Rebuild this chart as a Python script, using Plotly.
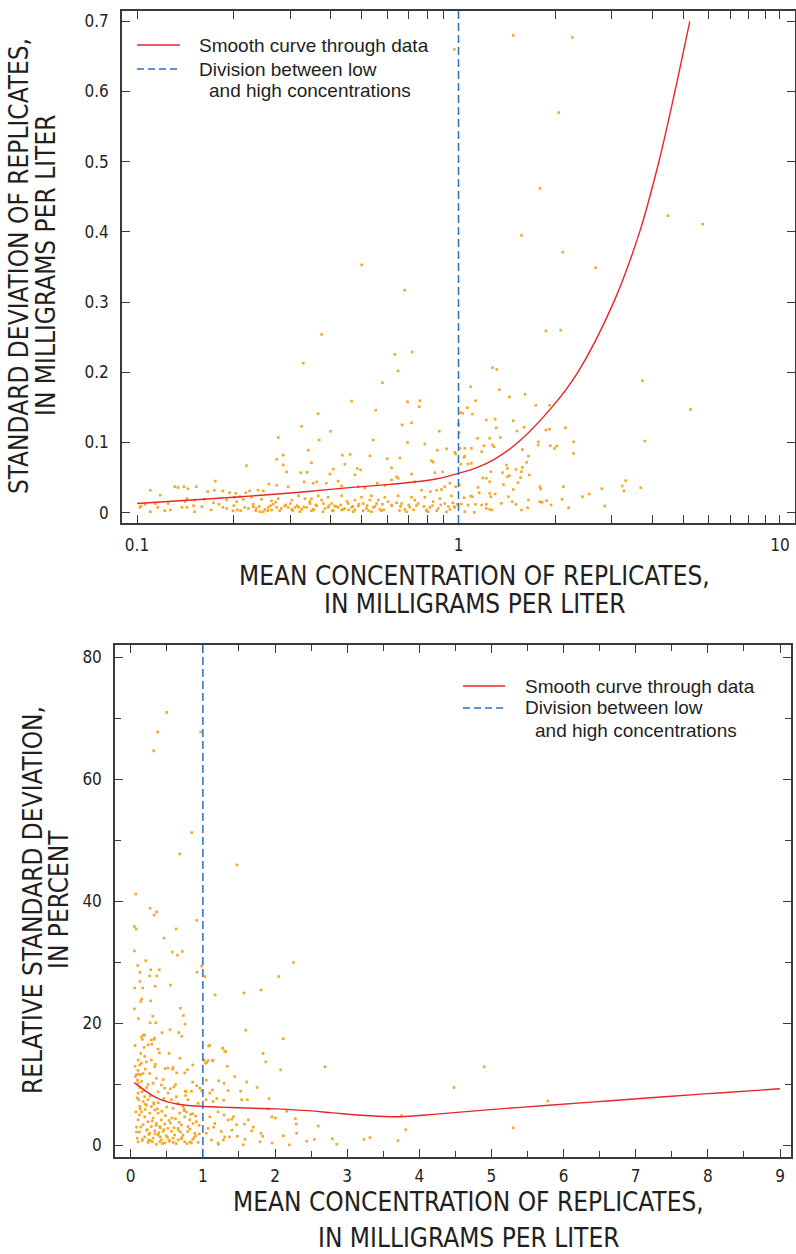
import plotly.graph_objects as go

# ---------------- data: top panel (standard deviation vs mean, log x) ----------------
TOP_X = [
    0.325, 0.714, 0.668, 0.275, 0.400, 0.871, 0.369, 0.543, 0.694, 0.786, 0.341, 0.285, 0.272, 0.435, 0.460,
    0.530, 0.600, 0.657, 0.859, 0.918, 0.974, 0.219, 0.285, 0.349, 0.443, 0.408, 0.484, 0.496, 0.619, 0.824,
    0.834, 0.892, 0.292, 0.323, 0.338, 0.398, 0.476, 0.642, 0.714, 0.844, 0.175, 0.131, 0.134, 0.140, 0.144,
    0.153, 0.110, 0.166, 0.174, 0.185, 0.194, 0.203, 0.218, 0.224, 0.238, 0.247, 0.257, 0.272, 0.295, 0.331,
    0.353, 0.362, 0.388, 0.422, 0.433, 0.488, 0.511, 0.559, 0.590, 0.619, 0.649, 0.731, 0.767, 0.818, 0.855,
    0.885, 0.906, 0.940, 0.118, 0.143, 0.151, 0.162, 0.141, 0.125, 0.114, 0.106, 0.102, 0.103,
    0.110, 0.116, 0.122, 0.127, 0.138, 0.143, 0.151, 0.159, 0.173, 0.185, 0.190, 0.199, 0.204, 0.214, 0.216,
    0.222, 0.230, 0.234, 0.241, 0.250, 0.256, 0.265, 0.272, 0.281, 0.288, 0.295, 0.303, 0.310, 0.318, 0.325,
    0.337, 0.345, 0.353, 0.362, 0.375, 0.384, 0.393, 0.403, 0.412, 0.422, 0.433, 0.443, 0.454, 0.465, 0.476,
    0.488, 0.505, 0.517, 0.530, 0.543, 0.556, 0.569, 0.604, 0.619, 0.642, 0.665, 0.681, 0.706, 0.731, 0.749,
    0.795, 0.815, 0.834, 0.865, 0.906, 0.940, 0.974, 0.190, 0.201, 0.209, 0.227, 0.244, 0.262, 0.275, 0.303,
    0.318, 0.333, 0.349, 0.366, 0.393, 0.433, 0.476, 0.499, 0.536, 0.563, 0.590, 0.649, 0.714, 0.786, 0.875,
    0.951, 0.235, 0.247, 0.262, 0.278, 0.321, 0.349, 0.379, 0.408, 0.438, 0.470, 0.505, 0.536, 0.576, 0.689,
    0.805, 0.855, 0.918,
    0.375, 0.329, 0.634, 0.718, 0.649, 0.580, 0.465, 0.694, 0.758, 0.755, 0.553, 0.366, 0.500, 0.680,
    0.970, 1.480, 2.260, 2.050, 1.790, 1.570, 2.110, 2.670, 4.480, 5.750,
    1.870, 2.080, 1.276, 1.316, 3.730, 1.090, 1.340, 1.610, 1.440, 1.130, 1.740, 1.920, 5.270, 1.066, 1.017,
    1.030, 1.105, 1.220, 1.300, 1.480, 1.000, 1.310, 1.600, 1.520, 1.870, 1.920, 2.150, 1.350, 1.146, 1.250,
    1.005, 2.280, 3.800, 1.770, 1.770, 1.930, 2.020, 1.990, 1.200, 1.276, 1.290, 1.010, 1.046, 1.097, 1.180,
    0.980, 1.580, 2.280, 1.650, 1.040, 1.046, 1.070, 1.097, 1.015, 1.410, 1.420, 1.630, 1.260, 1.370, 1.420,
    1.440, 1.510, 1.580, 1.570, 1.560, 1.660, 1.190, 1.220, 1.250, 0.980, 1.005, 1.150, 1.380, 1.480, 1.530,
    1.790, 1.800, 2.120, 2.790, 3.230, 3.310, 3.270, 3.690, 2.430, 2.550, 2.850, 1.160, 1.090, 1.040, 1.105,
    1.250, 1.260, 1.300, 1.430, 1.470, 1.510, 1.650, 1.570, 1.640, 1.790, 1.820, 1.880, 1.940, 2.100, 2.200,
    1.360, 1.220, 1.180, 1.130, 1.070, 1.020, 1.046, 1.120, 1.220, 1.250, 1.270, 0.970, 0.960,
    0.150, 0.170, 0.180, 0.200, 0.210, 0.230, 0.240, 0.260, 0.270, 0.290, 0.300, 0.315, 0.330, 0.345, 0.360,
    0.380, 0.395, 0.415, 0.430, 0.450, 0.470, 0.490, 0.520, 0.550, 0.580, 0.620, 0.660, 0.700, 0.740, 0.780,
    0.830, 0.880, 0.930, 0.990, 0.205, 0.255, 0.305, 0.355, 0.405, 0.455, 0.525, 0.585, 0.655, 0.725, 0.795,
]
TOP_Y = [
    0.123, 0.128, 0.125, 0.107, 0.116, 0.116, 0.1035, 0.1035, 0.100, 0.098, 0.089, 0.082, 0.076, 0.082, 0.083,
    0.081, 0.077, 0.078, 0.089, 0.091, 0.086, 0.067, 0.068, 0.071, 0.069, 0.062, 0.063, 0.061, 0.064, 0.074,
    0.072, 0.058, 0.058, 0.057, 0.0575, 0.055, 0.054, 0.051, 0.055, 0.057, 0.045, 0.037, 0.036, 0.037, 0.034,
    0.037, 0.032, 0.030, 0.032, 0.031, 0.0285, 0.0275, 0.0285, 0.031, 0.032, 0.031, 0.041, 0.039, 0.037, 0.044,
    0.042, 0.044, 0.042, 0.045, 0.038, 0.037, 0.035, 0.042, 0.039, 0.0465, 0.049, 0.044, 0.032, 0.030, 0.032,
    0.033, 0.037, 0.042, 0.025, 0.020, 0.018, 0.019, 0.0157, 0.013, 0.013, 0.012, 0.0076, 0.0095,
    0.0014, 0.0076, 0.0028, 0.0038, 0.0076, 0.0076, 0.0014, 0.0085, 0.014, 0.0076, 0.006, 0.0028, 0.0157, 0.019, 0.0076,
    0.006, 0.0085, 0.0028, 0.0014, 0.0047, 0.0076, 0.012, 0.0076, 0.006, 0.0095, 0.0076, 0.0047, 0.0076, 0.0076, 0.0047,
    0.0076, 0.013, 0.0047, 0.0095, 0.018, 0.006, 0.0076, 0.013, 0.0095, 0.0076, 0.0038, 0.006, 0.013, 0.0076, 0.0038,
    0.0095, 0.013, 0.006, 0.018, 0.0076, 0.013, 0.0047, 0.0157, 0.011, 0.014, 0.013, 0.0047, 0.0076, 0.018, 0.013,
    0.0028, 0.0076, 0.0157, 0.006, 0.013, 0.0047, 0.0076, 0.018, 0.022, 0.023, 0.022, 0.019, 0.017, 0.020, 0.018,
    0.024, 0.020, 0.020, 0.024, 0.022, 0.024, 0.018, 0.022, 0.024, 0.018, 0.022, 0.024, 0.022, 0.022, 0.020,
    0.024, 0.006, 0.0014, 0.0038, 0.0028, 0.0014, 0.0028, 0.0014, 0.0028, 0.0047, 0.0014, 0.0028, 0.0014, 0.0028, 0.0014,
    0.0014, 0.0028, 0.0014,
    0.254, 0.213, 0.2255, 0.229, 0.202, 0.185, 0.159, 0.158, 0.1595, 0.151, 0.146, 0.141, 0.353, 0.317,
    0.660, 0.680, 0.677, 0.570, 0.462, 0.395, 0.371, 0.349, 0.423, 0.411,
    0.259, 0.260, 0.2066, 0.204, 0.188, 0.1795, 0.175, 0.1686, 0.165, 0.1595, 0.153, 0.153, 0.147, 0.1496, 0.1425,
    0.1415, 0.1405, 0.132, 0.1334, 0.131, 0.126, 0.121, 0.1216, 0.1163, 0.1178, 0.119, 0.121, 0.107, 0.106, 0.106,
    0.114, 0.101, 0.102, 0.101, 0.0964, 0.0954, 0.095, 0.0916, 0.0954, 0.0964, 0.094, 0.0916, 0.0916, 0.0916, 0.0869,
    0.0836, 0.090, 0.0845, 0.0807, 0.0788, 0.0807, 0.0693, 0.0703, 0.069, 0.0679, 0.063, 0.0717, 0.0584, 0.057, 0.0513,
    0.0527, 0.0617, 0.0646, 0.0584, 0.0499, 0.0537, 0.0494, 0.049, 0.0442, 0.037, 0.0394, 0.036, 0.040, 0.033, 0.0427,
    0.037, 0.0337, 0.037, 0.0342, 0.038, 0.0456, 0.031, 0.0356, 0.0228, 0.0266, 0.0095, 0.0285, 0.0237, 0.0214, 0.0228,
    0.0275, 0.0228, 0.0266, 0.0228, 0.0157, 0.0119, 0.018, 0.0038, 0.0071, 0.0157, 0.0147, 0.0171, 0.0109, 0.019, 0.0071,
    0.0133, 0.0119, 0.0109, 0.0119, 0.0109, 0.0123, 0.0014, 0.0005, 0.0062, 0.0047, 0.0038, 0.0085, 0.014,
    0.010, 0.004, 0.012, 0.010, 0.003, 0.012, 0.009, 0.010, 0.015, 0.011, 0.013, 0.010, 0.008, 0.016, 0.011,
    0.013, 0.010, 0.009, 0.011, 0.016, 0.009, 0.012, 0.010, 0.009, 0.012, 0.010, 0.009, 0.011, 0.010, 0.009,
    0.010, 0.011, 0.009, 0.012, 0.004, 0.003, 0.003, 0.004, 0.003, 0.004, 0.003, 0.004, 0.003, 0.004, 0.004,
]

TOP_CURVE_X = [0.1, 0.2, 0.3, 0.44, 0.6, 0.7, 0.85, 1.0, 1.15, 1.28, 1.53, 1.95, 2.35, 3.04, 3.66, 4.20, 4.71, 5.24]
TOP_CURVE_Y = [0.013, 0.022, 0.028, 0.035, 0.040, 0.043, 0.048, 0.056, 0.065, 0.075, 0.100, 0.150, 0.200, 0.300,
               0.400, 0.500, 0.600, 0.700]

# ---------------- data: bottom panel (relative standard deviation vs mean) ----------------
BOT_X = [
    0.499, 0.374, 0.970, 0.319, 0.845, 0.679, 1.473,
    0.069, 0.268, 0.360, 0.323, 0.915, 0.051, 0.074, 0.628, 0.462, 0.051, 0.577, 0.647, 0.716, 0.208, 2.254,
    0.097, 0.277, 0.397, 0.129, 0.919, 0.984, 0.263, 0.360, 1.030, 2.050, 0.129, 0.055, 0.166, 0.337, 0.550,
    1.806, 1.169, 1.570, 0.152, 0.139, 0.051, 0.277, 0.688, 0.730, 0.753, 0.106, 0.305, 0.268, 0.346, 0.545,
    0.434, 0.665, 0.707, 1.594, 2.115, 0.176, 0.162, 0.323, 0.291, 0.060, 1.095, 1.275, 1.316, 1.834, 1.871,
    0.684, 0.531, 0.397, 0.139, 1.053, 1.132, 1.035, 0.859, 1.339, 2.693, 2.079, 1.441, 1.607, 0.785, 0.476,
    0.582, 0.637, 0.342, 1.219, 1.293, 1.132, 1.917, 1.524, 1.617, 1.538, 1.044, 1.192, 1.289, 0.753, 0.859,
    0.984, 0.915, 1.954, 2.005, 2.282, 2.296, 2.162, 1.806, 1.829, 1.958, 2.115, 2.199, 2.439, 2.545, 2.794,
    2.855, 3.233, 3.316, 3.704, 3.811, 3.755, 1.423, 1.400, 1.469, 1.575, 1.630, 1.584, 1.478, 1.561, 1.677,
    1.792, 1.284, 1.367, 1.215,
    0.065, 0.079, 0.111, 0.139, 0.171, 0.092, 0.102, 0.125, 0.157, 0.102, 0.194, 0.111, 0.171, 0.240, 0.217,
    0.125, 0.286, 0.333, 0.148, 0.263, 0.379, 0.194, 0.309, 0.102, 0.425, 0.240, 0.356, 0.471, 0.171, 0.286,
    0.402, 0.517, 0.217, 0.333, 0.448, 0.564, 0.263, 0.379, 0.494, 0.610, 0.194, 0.309, 0.425, 0.540, 0.656,
    0.102, 0.240, 0.356, 0.471, 0.748, 0.841, 0.933,
    0.702, 0.794, 0.864, 0.748, 0.818, 0.910, 0.679, 0.771, 0.587, 0.656, 0.725, 0.564, 0.633, 0.517, 0.471,
    0.379, 0.425, 0.309, 0.356, 0.263, 0.517, 0.587, 0.748, 0.771, 0.841, 0.956, 0.794, 0.933, 0.656, 0.887,
    0.725, 0.587, 0.402, 0.286, 0.194, 0.125, 0.333,
    1.048, 1.095, 1.141, 1.210, 1.164, 1.072, 1.256, 1.118, 1.303, 1.210, 1.048, 1.349, 1.095, 1.293,
    1.016, 1.072, 1.141, 1.081, 1.279, 1.303,
    0.148, 0.194, 0.286, 0.333, 0.240, 0.185, 0.379, 0.102, 0.148, 0.217,
    4.480, 4.900, 5.300, 5.780,
    0.080, 0.120, 0.160, 0.200, 0.230, 0.270, 0.300, 0.340, 0.370, 0.410, 0.440, 0.480, 0.510, 0.550, 0.590,
    0.620, 0.660, 0.700, 0.740, 0.780, 0.820, 0.860, 0.900, 0.950, 0.090, 0.140, 0.180, 0.250, 0.320, 0.390,
    0.460, 0.530, 0.600, 0.690, 0.760, 0.830, 0.880,
    0.07, 0.08, 0.09, 0.12, 0.13, 0.16, 0.20, 0.22, 0.25, 0.27, 0.30, 0.32, 0.35, 0.38, 0.41,
    0.43, 0.46, 0.50, 0.53, 0.57, 0.60, 0.63, 0.67, 0.71, 0.74, 0.79, 0.82, 0.86, 0.90, 0.95,
    0.06, 0.10, 0.15, 0.20, 0.24, 0.45, 0.55, 0.62, 1.15, 1.40, 1.70, 1.90, 2.30, 2.60, 1.35, 1.75,
]
BOT_Y = [
    71.0, 67.8, 67.8, 64.7, 51.3, 47.8, 46.0,
    41.2, 38.9, 38.3, 37.8, 36.9, 35.9, 35.5, 35.5, 34.0, 31.9, 31.7, 31.2, 31.8, 30.3, 30.0,
    29.5, 28.8, 28.8, 28.4, 28.4, 29.4, 27.8, 27.8, 27.7, 27.7, 26.9, 25.8, 25.8, 26.1, 26.3,
    25.5, 24.7, 25.0, 24.0, 23.6, 22.4, 23.7, 22.5, 21.3, 19.9, 20.8, 21.2, 20.1, 20.1, 19.0,
    18.5, 18.5, 17.9, 18.9, 17.5, 18.1, 17.4, 17.4, 16.6, 16.4, 16.4, 16.0, 15.4, 15.1, 13.7,
    14.3, 15.1, 15.2, 15.1, 13.6, 13.9, 13.5, 13.2, 13.0, 12.9, 12.4, 11.3, 10.4, 12.4, 12.6,
    12.5, 11.9, 13.3, 10.6, 10.2, 9.1, 7.7, 8.9, 7.5, 7.5, 7.5, 7.7, 7.4, 8.9, 10.4,
    9.0, 9.8, 4.7, 4.5, 4.4, 3.5, 5.6, 2.0, 1.5, 0.4, 1.6, 0.1, 0.7, 1.0, 1.1,
    0.2, 1.0, 1.3, 0.8, 2.6, 4.9, 4.7, 4.3, 3.4, 3.5, 4.2, 1.0, 1.5, 0.1, 2.4,
    0.6, 0.9, 1.4, 0.2,
    11.3, 11.6, 11.7, 11.6, 11.8, 10.7, 10.2, 9.5, 8.8, 8.6, 8.0, 7.5, 7.2, 7.5, 6.6,
    6.4, 6.4, 5.8, 5.5, 5.3, 5.3, 4.7, 4.5, 4.2, 4.2, 3.9, 3.6, 3.5, 3.4, 3.1,
    3.1, 2.8, 2.5, 2.4, 2.3, 2.3, 2.0, 1.7, 1.6, 1.7, 1.4, 1.2, 0.9, 0.8, 0.9,
    0.6, 0.5, 0.2, 0.4, 0.6, 0.4, 0.5,
    3.4, 3.1, 3.6, 4.7, 4.2, 3.9, 5.3, 5.5, 6.1, 6.9, 6.4, 7.5, 8.0, 8.6, 9.4,
    8.8, 9.9, 10.2, 11.0, 11.8, 12.7, 12.8, 11.9, 8.8, 8.9, 9.4, 7.5, 6.9, 2.8, 2.0,
    1.7, 1.2, 0.6, 14.0, 14.6, 13.2, 12.9,
    10.7, 8.6, 7.2, 5.5, 3.6, 2.8, 2.3, 0.9, 1.4, 0.4, 2.0, 4.2, 4.7, 5.0,
    14.0, 13.9, 14.0, 16.3, 15.9, 15.4,
    17.8, 18.1, 17.3, 17.6, 16.5, 16.1, 15.8, 14.0, 13.5, 13.7,
    9.5, 12.9, 2.9, 7.3,
    2.2, 5.0, 1.0, 6.8, 2.6, 0.8, 4.0, 1.9, 6.0, 2.9, 0.3, 4.9, 1.3, 3.7, 0.5,
    4.4, 2.5, 1.1, 5.7, 0.3, 2.7, 1.0, 4.8, 1.9, 7.8, 3.0, 9.0, 0.9, 7.0, 2.1,
    7.7, 4.1, 9.6, 2.2, 8.2, 5.1, 1.3,
    5.5, 3.0, 1.2, 2.2, 6.0, 0.8, 5.9, 9.5, 1.8, 8.1, 0.6, 6.8, 3.3, 7.0, 1.4,
    5.6, 2.6, 6.3, 0.7, 4.5, 2.9, 0.3, 3.8, 1.3, 6.0, 2.3, 0.6, 5.2, 1.6, 3.3,
    13.0, 12.3, 10.5, 12.5, 10.0, 10.8, 9.3, 10.0, 3.0, 2.5, 3.0, 6.0, 2.0, 3.2, 9.0, 9.5,
]

BOT_CURVE_X = [0.05, 0.2, 0.36, 0.5, 0.64, 0.8, 1.0, 1.3, 1.6, 2.0, 2.4, 2.8, 3.2, 3.6, 3.8, 4.2, 4.9,
               5.8, 6.6, 7.4, 8.2, 9.0]
BOT_CURVE_Y = [10.3, 9.0, 7.8, 7.2, 6.8, 6.55, 6.4, 6.25, 6.15, 6.0, 5.75, 5.35, 4.95, 4.72, 4.75, 5.1, 5.8,
               6.6, 7.3, 8.0, 8.65, 9.3]

DIVISION = 1.0
TOP_Y_TICKS = [0, 0.1, 0.2, 0.3, 0.4, 0.5, 0.6, 0.7]
TOP_X_TICKS = [0.1, 1, 10]
BOT_X_TICKS = [0, 1, 2, 3, 4, 5, 6, 7, 8, 9]
BOT_Y_TICKS = [0, 20, 40, 60, 80]
LEGEND_CURVE = "Smooth curve through data"
LEGEND_DIV_1 = "Division between low"
LEGEND_DIV_2 = "and high concentrations"

# ---------------- styles ----------------
DOT = "#F6A623"
RED = "#E8262A"
BLUE = "#2B70C0"
AXC = "#3a3a3a"
TXT = "#231f20"
COND = "Liberation Sans Narrow, DejaVu Sans Condensed, Arial Narrow, sans-serif"
REG = "Liberation Sans, Arial, sans-serif"
W, H = 796, 1254

fig = go.Figure()

# top panel
fig.add_trace(go.Scatter(x=TOP_X, y=TOP_Y, mode="markers", xaxis="x", yaxis="y",
                         marker=dict(symbol="square", size=2.6, color=DOT, line=dict(width=0)),
                         showlegend=False, hoverinfo="skip"))
fig.add_trace(go.Scatter(x=TOP_CURVE_X, y=TOP_CURVE_Y, mode="lines", xaxis="x", yaxis="y",
                         line=dict(color=RED, width=1.4, shape="spline", smoothing=1.0),
                         showlegend=False))
# bottom panel
fig.add_trace(go.Scatter(x=BOT_X, y=BOT_Y, mode="markers", xaxis="x2", yaxis="y2",
                         marker=dict(symbol="square", size=2.6, color=DOT, line=dict(width=0)),
                         showlegend=False, hoverinfo="skip"))
fig.add_trace(go.Scatter(x=BOT_CURVE_X, y=BOT_CURVE_Y, mode="lines", xaxis="x2", yaxis="y2",
                         line=dict(color=RED, width=1.4, shape="spline", smoothing=1.0),
                         showlegend=False))

# division lines (full height of each plot)
for xr, yr in (("x", "y domain"), ("x2", "y2 domain")):
    fig.add_shape(type="line", xref=xr, yref=yr, x0=DIVISION, x1=DIVISION, y0=0, y1=1,
                  line=dict(color=BLUE, width=1.5, dash="8px,4px"))

axis_common = dict(showgrid=False, zeroline=False, showline=True, linecolor=AXC, linewidth=1.5,
                   mirror="ticks", ticks="inside", ticklen=8, tickwidth=1.3, tickcolor=AXC,
                   tickfont=dict(family=COND, size=17, color=TXT))

fig.update_layout(
    width=W, height=H, margin=dict(l=0, r=0, t=0, b=0),
    paper_bgcolor="white", plot_bgcolor="white", showlegend=False,
    xaxis=dict(axis_common, type="log", domain=[122 / W, 795 / W], anchor="y",
               range=[-1.0467, 1.0467], tickvals=TOP_X_TICKS, ticktext=["0.1", "1", "10"],
               minor=dict(ticks="inside", ticklen=8, tickwidth=1.2, tickcolor=AXC,
                          tickvals=[v * d for d in (0.1, 1) for v in range(2, 10)]),
               ticklabelstandoff=6),
    yaxis=dict(axis_common, domain=[1 - 523 / H, 1 - 11 / H], anchor="x",
               range=[-0.0147, 0.7147], tickvals=TOP_Y_TICKS,
               ticktext=["0", "0.1", "0.2", "0.3", "0.4", "0.5", "0.6", "0.7"],
               ticklabelstandoff=8),
    xaxis2=dict(axis_common, domain=[115 / W, 790.7 / W], anchor="y2",
                range=[-0.218, 9.148], tickvals=BOT_X_TICKS,
                minor=dict(ticks="inside", ticklen=6, tickwidth=1.2, tickcolor=AXC, dtick=0.5),
                ticklabelstandoff=3),
    yaxis2=dict(axis_common, domain=[1 - 1157 / H, 1 - 645 / H], anchor="x2",
                range=[-1.89, 82.05], tickvals=BOT_Y_TICKS,
                minor=dict(ticks="inside", ticklen=6, tickwidth=1.2, tickcolor=AXC, dtick=10),
                ticklabelstandoff=8),
)


def text(x, y, s, font, angle=0, xanchor="center"):
    fig.add_annotation(x=x / W, y=1 - y / H, xref="paper", yref="paper", showarrow=False, text=s,
                       font=font, textangle=angle, xanchor=xanchor, yanchor="middle")


title_font = dict(family=COND, size=26, color=TXT)
text(474, 576, "MEAN CONCENTRATION OF REPLICATES,", title_font)
text(474, 604, "IN MILLIGRAMS PER LITER", title_font)
text(19, 266, "STANDARD DEVIATION OF REPLICATES,", title_font, angle=-90)
text(46, 266, "IN MILLIGRAMS PER LITER", title_font, angle=-90)
text(468, 1202, "MEAN CONCENTRATION OF REPLICATES,", title_font)
text(468, 1238, "IN MILLIGRAMS PER LITER", title_font)
text(33, 900, "RELATIVE STANDARD DEVIATION,", title_font, angle=-90)
text(59, 900, "IN PERCENT", title_font, angle=-90)

# legends
leg_font = dict(family=REG, size=19, color=TXT)
for (lx0, lx1, tx, r1, r2, r3) in ((137, 180, 197, 45, 69, 91), (463, 505, 523, 686, 708, 730)):
    fig.add_shape(type="line", xref="paper", yref="paper", x0=lx0 / W, x1=lx1 / W,
                  y0=1 - r1 / H, y1=1 - r1 / H, line=dict(color=RED, width=1.4))
    fig.add_shape(type="line", xref="paper", yref="paper", x0=lx0 / W, x1=lx1 / W,
                  y0=1 - r2 / H, y1=1 - r2 / H, line=dict(color=BLUE, width=1.4, dash="7px,4px"))
    text(tx, r1, LEGEND_CURVE, leg_font, xanchor="left")
    text(tx, r2, LEGEND_DIV_1, leg_font, xanchor="left")
    text(tx + 10, r3, LEGEND_DIV_2, leg_font, xanchor="left")

fig.write_html("out.html")
